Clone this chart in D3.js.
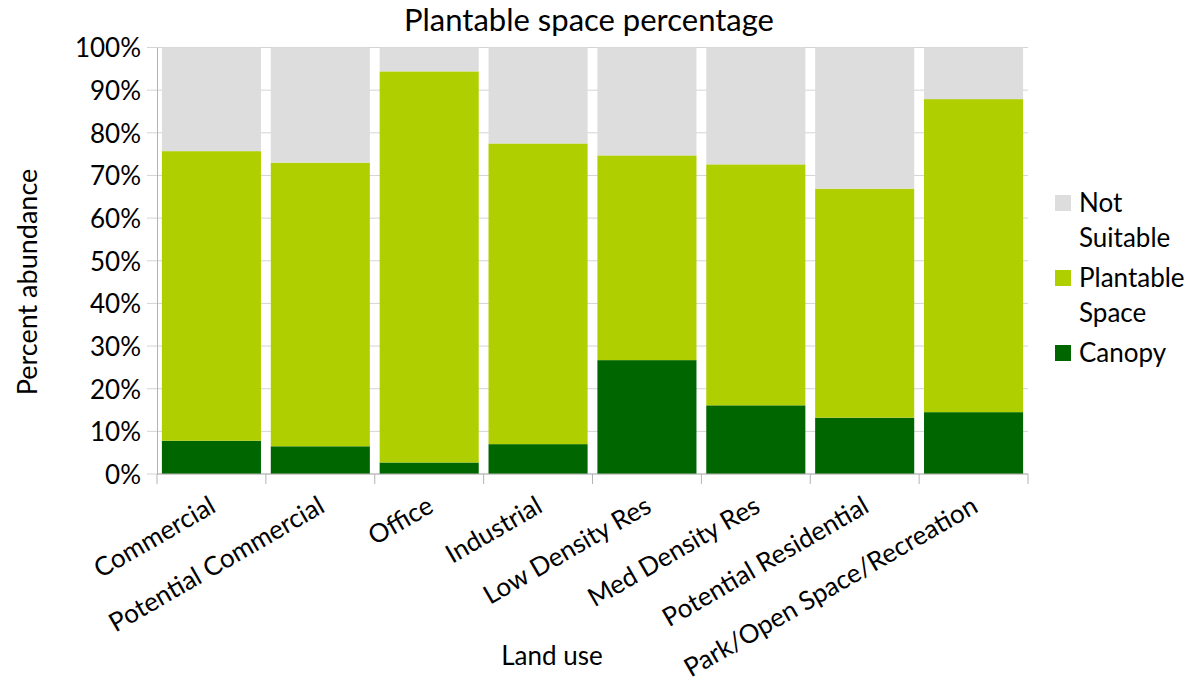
<!DOCTYPE html>
<html>
<head>
<meta charset="utf-8">
<script src="https://cdn.jsdelivr.net/npm/d3@7/dist/d3.min.js"></script>
<style>
  body { margin: 0; background: #fff; }
  text { font-family: Lato, 'Open Sans', sans-serif; fill: #000; }
</style>
</head>
<body>
<div id="chart"></div>
<script>
// land use categories
var categories = ['Commercial', 'Potential Commercial', 'Office', 'Industrial',
  'Low Density Res', 'Med Density Res', 'Potential Residential', 'Park/Open Space/Recreation'];

// percent values
var canopy      = [7.8, 6.5, 2.7, 7.0, 26.7, 16.1, 13.2, 14.5];
var plantable   = [67.9, 66.5, 91.7, 70.5, 48.0, 56.5, 53.7, 73.4];
var notSuitable = [24.3, 27.0, 5.6, 22.5, 25.3, 27.4, 33.1, 12.1];

var seriesNames = ['Canopy', 'Plantable Space', 'Not Suitable'];
var yTicks = [0, 10, 20, 30, 40, 50, 60, 70, 80, 90, 100];

var w = 1187, h = 682;
var plotLeft = 157, plotRight = 1028, plotTop = 47.5, plotBottom = 474;

var colors = { 'Canopy': '#006600', 'Plantable Space': '#b0cf00', 'Not Suitable': '#dddddd' };

var svg = d3.select('#chart').append('svg')
  .attr('width', w)
  .attr('height', h);

var x = d3.scaleBand()
  .domain(categories)
  .range([plotLeft, plotRight])
  .paddingInner(0.09)
  .paddingOuter(0.045);

var y = d3.scaleLinear()
  .domain([0, 100])
  .range([plotBottom, plotTop]);

/* Grid lines */

svg.append('g')
  .selectAll('line')
  .data(yTicks)
  .enter()
  .append('line')
  .attr('x1', plotLeft - 10)
  .attr('x2', plotRight)
  .attr('y1', function (d) { return y(d); })
  .attr('y2', function (d) { return y(d); })
  .style('stroke', '#d4d4d4')
  .style('stroke-width', 1);

/* Stacked bars */

var rows = categories.map(function (c, i) {
  return { cat: c, 'Canopy': canopy[i], 'Plantable Space': plantable[i], 'Not Suitable': notSuitable[i] };
});

var stacked = d3.stack().keys(seriesNames)(rows);

svg.append('g')
  .selectAll('g')
  .data(stacked)
  .enter()
  .append('g')
  .style('fill', function (d) { return colors[d.key]; })
  .selectAll('rect')
  .data(function (d) { return d; })
  .enter()
  .append('rect')
  .attr('x', function (d) { return x(d.data.cat); })
  .attr('width', x.bandwidth())
  .attr('y', function (d) { return y(Math.min(d[1], 100)); })
  .attr('height', function (d) { return y(d[0]) - y(Math.min(d[1], 100)); });

/* Axes */

var yAxis = d3.axisLeft(y)
  .tickValues(yTicks)
  .tickSize(0)
  .tickPadding(16)
  .tickFormat(function (d) { return d + '%'; });

var gy = svg.append('g')
  .attr('transform', 'translate(' + plotLeft + ',0)')
  .call(yAxis);
gy.select('.domain').style('stroke', '#b3b3b3');
gy.selectAll('text')
  .style('font-family', 'Lato, sans-serif')
  .style('font-size', '26px')
  .style('fill', '#000')
  .attr('dy', '0.36em');

var boundaries = d3.range(categories.length + 1).map(function (i) {
  return plotLeft + i * x.step();
});

svg.append('line')
  .attr('x1', plotLeft)
  .attr('x2', plotRight)
  .attr('y1', plotBottom)
  .attr('y2', plotBottom)
  .style('stroke', '#b3b3b3');

svg.append('g')
  .selectAll('line')
  .data(boundaries)
  .enter()
  .append('line')
  .attr('x1', function (d) { return d; })
  .attr('x2', function (d) { return d; })
  .attr('y1', plotBottom)
  .attr('y2', plotBottom + 10)
  .style('stroke', '#b3b3b3');

/* Category labels */

svg.append('g')
  .selectAll('text')
  .data(categories)
  .enter()
  .append('text')
  .text(function (d) { return d; })
  .attr('text-anchor', 'end')
  .attr('transform', function (d) {
    return 'translate(' + (x(d) + x.bandwidth() / 2 + 6) + ',511) rotate(-30)';
  })
  .style('font-size', '26px');

/* Titles */

svg.append('text')
  .text('Plantable space percentage')
  .attr('x', 589)
  .attr('y', 31)
  .attr('text-anchor', 'middle')
  .style('font-size', '31px');

svg.append('text')
  .text('Percent abundance')
  .attr('transform', 'translate(37,282) rotate(-90)')
  .attr('text-anchor', 'middle')
  .style('font-size', '27px');

svg.append('text')
  .text('Land use')
  .attr('x', 552)
  .attr('y', 665)
  .attr('text-anchor', 'middle')
  .style('font-size', '26px');

/* Legend */

var legend = [
  { key: 'Not Suitable', lines: ['Not', 'Suitable'], y: 212 },
  { key: 'Plantable Space', lines: ['Plantable', 'Space'], y: 287 },
  { key: 'Canopy', lines: ['Canopy'], y: 362 }
];

var lg = svg.append('g')
  .selectAll('g')
  .data(legend)
  .enter()
  .append('g');

lg.append('rect')
  .attr('x', 1055)
  .attr('y', function (d) { return d.y - 17; })
  .attr('width', 16)
  .attr('height', 16)
  .style('fill', function (d) { return colors[d.key]; });

lg.append('text')
  .attr('x', 1079)
  .attr('y', function (d) { return d.y; })
  .style('font-size', '26px')
  .selectAll('tspan')
  .data(function (d) { return d.lines; })
  .enter()
  .append('tspan')
  .attr('x', 1079)
  .attr('dy', function (d, i) { return i === 0 ? 0 : 35; })
  .text(function (d) { return d; });
</script>
</body>
</html>
